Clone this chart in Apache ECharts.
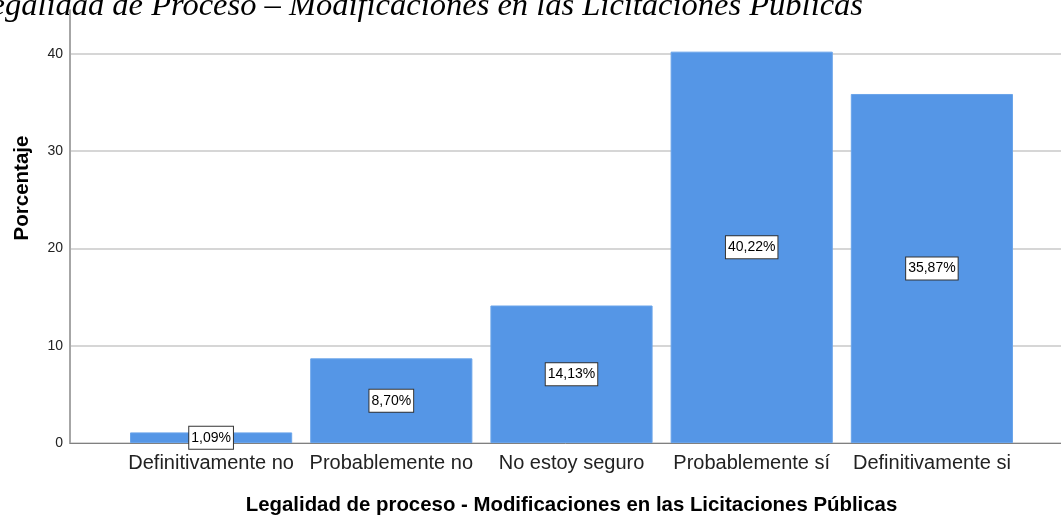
<!DOCTYPE html>
<html>
<head>
<meta charset="utf-8">
<script src="https://cdn.jsdelivr.net/npm/echarts@6/dist/echarts.min.js"></script>
<style>
    html, body { margin: 0; padding: 0; background: #fff; }
    #main { width: 1061px; height: 516px; }
</style>
</head>
<body>
<div id="main"></div>
<script>
var categories = ['Definitivamente no', 'Probablemente no', 'No estoy seguro', 'Probablemente sí', 'Definitivamente si'];
var percentages = [1.09, 8.70, 14.13, 40.22, 35.87];
var percentLabels = ['1,09%', '8,70%', '14,13%', '40,22%', '35,87%'];
var yTicks = [0, 10, 20, 30, 40];

function barChartInit() {

    var chartDom = document.getElementById('main');
    var myChart = echarts.init(chartDom, null, { renderer: 'canvas' });
    var option;

    // axis runs a bit above the 40 line, no label/gridline there
    var yMax = 44.5;

    option = {
        animation: false,
        backgroundColor: '#ffffff',
        textStyle: { fontFamily: 'Liberation Sans, Arial, sans-serif' },
        graphic: [
            {
                type: 'text',
                x: 863,
                y: 6,
                style: {
                    text: 'Legalidad de Proceso – Modificaciones en las Licitaciones Públicas',
                    font: 'italic 32.5px "Liberation Serif", "Times New Roman", serif',
                    fill: '#000',
                    align: 'right',
                    verticalAlign: 'middle'
                }
            },
            {
                type: 'text',
                x: 22,
                y: 188,
                rotation: Math.PI / 2,
                style: {
                    text: 'Porcentaje',
                    font: 'bold 20.5px "Liberation Sans", Arial, sans-serif',
                    fill: '#000',
                    align: 'center',
                    verticalAlign: 'middle'
                }
            }
        ],
        grid: [
            { left: 70, right: 0, top: 10, bottom: 73, outerBoundsMode: 'none', containLabel: false },
            { left: 121, right: 39, top: 10, bottom: 73, outerBoundsMode: 'none', containLabel: false }
        ],
        xAxis: [
            {
                type: 'category',
                gridIndex: 0,
                data: [''],
                axisLine: { show: true, lineStyle: { color: '#808080', width: 1 } },
                axisTick: { show: false },
                axisLabel: { show: false }
            },
            {
                type: 'category',
                gridIndex: 1,
                data: categories,
                axisLine: { show: false },
                axisTick: { show: false },
                axisLabel: {
                    color: '#222',
                    fontSize: 20,
                    margin: 10,
                    interval: 0
                },
                name: 'Legalidad de proceso - Modificaciones en las Licitaciones Públicas',
                nameLocation: 'middle',
                nameGap: 52,
                nameTextStyle: { color: '#000', fontSize: 20.4, fontWeight: 'bold' }
            }
        ],
        yAxis: [
            {
                type: 'value',
                gridIndex: 0,
                min: 0,
                max: yMax,
                interval: 10,
                axisLine: { show: true, lineStyle: { color: '#a6a6a6', width: 2 } },
                axisTick: { show: false },
                axisLabel: {
                    color: '#222',
                    fontSize: 14,
                    margin: 7,
                    showMaxLabel: false,
                    formatter: function (v) {
                        return yTicks.indexOf(v) >= 0 ? String(v) : '';
                    }
                },
                splitLine: { show: true, showMaxLine: false, lineStyle: { color: '#d6d6d6', width: 2 } }
            },
            {
                type: 'value',
                gridIndex: 1,
                min: 0,
                max: yMax,
                show: false,
                splitLine: { show: false }
            }
        ],
        series: [
            {
                name: 'Porcentaje',
                type: 'bar',
                xAxisIndex: 1,
                yAxisIndex: 1,
                barCategoryGap: '10%',
                data: percentages,
                itemStyle: {
                    color: '#5596e6',
                    borderColor: '#6aa4ea',
                    borderWidth: 1
                },
                label: {
                    show: true,
                    position: 'inside',
                    formatter: function (p) { return percentLabels[p.dataIndex]; },
                    color: '#000',
                    fontSize: 14,
                    backgroundColor: '#fff',
                    borderColor: '#333',
                    borderWidth: 1,
                    padding: [3, 2, 3, 2],
                    lineHeight: 16
                }
            }
        ]
    };

    option && myChart.setOption(option);

}

barChartInit();
</script>
</body>
</html>
